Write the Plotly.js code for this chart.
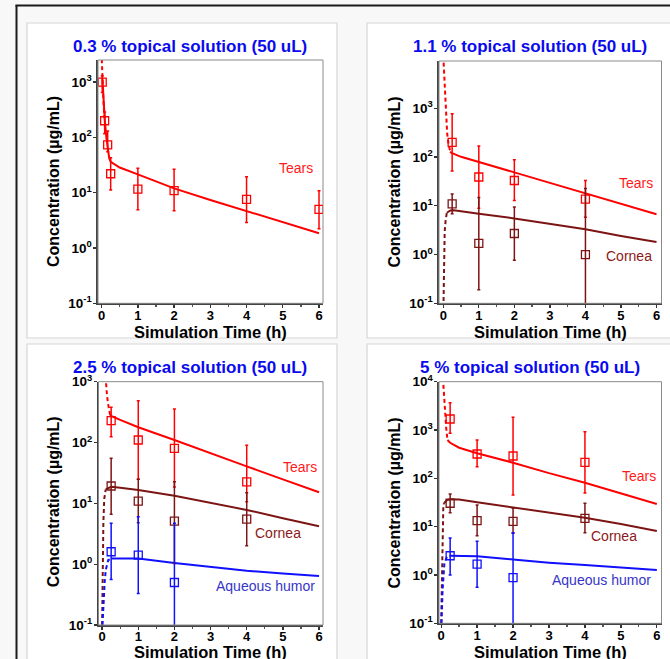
<!DOCTYPE html>
<html><head><meta charset="utf-8">
<script src="https://cdn.plot.ly/plotly-3.0.1.min.js"></script>
<style>html,body{margin:0;padding:0;background:#f8f8f8}#chart{width:670px;height:659px}</style>
</head><body><div id="chart"></div>
<script>
// ---------- Panel A : 0.3 % ----------
const obsA_t = [0.017, 0.083, 0.167, 0.25, 1, 2, 4, 6];
const tearsA = [1000, 200, 73, 22, 11.6, 10.9, 7.6, 5.0];
const tearsA_hi = [1300, 288, 130, 43, 27.7, 26.6, 19.5, 10.9];
const tearsA_lo = [650, 117, 55, 11.2, 4.9, 4.7, 2.9, 2.24];
const simA_dash_t = [0.005, 0.015, 0.03, 0.05, 0.08];
const simA_tears_dash = [2600, 1600, 900, 450, 220];
const simA_t = [0.02, 0.05, 0.09, 0.13, 0.17, 0.21, 0.25, 0.5, 1, 1.5, 2, 3, 4, 5, 6];
const simA_tears = [1200, 500, 200, 100, 60, 42, 36, 28.5, 21.5, 16, 12, 7.4, 4.7, 2.9, 1.85];

// ---------- Panel B : 1.1 % ----------
const obsB_t = [0.25, 1, 2, 4];
const tearsB = [200, 39, 33, 13.7];
const tearsB_hi = [774, 168, 88, 33];
const tearsB_lo = [52, 8.9, 12.9, 5.8];
const corneaB = [11, 1.7, 2.7, 1.0];
const corneaB_hi = [17.4, 14.8, 9.5, 22.7];
const corneaB_lo = [6.9, 0.19, 0.76, 0.01];
const simB_tears_dash_t = [0, 0.02, 0.05, 0.08, 0.11, 0.15, 0.2];
const simB_tears_dash = [12000, 6000, 2000, 800, 306, 180, 128];
const simB_tears_t = [0.19, 0.25, 0.5, 1, 1.5, 2, 3, 4, 5, 6];
const simB_tears = [128, 120, 101, 80, 62, 48.5, 29.5, 18, 11, 6.7];
const simB_cornea_dash_t = [0.005, 0.015, 0.025, 0.04, 0.067, 0.1];
const simB_cornea_dash = [0.08, 0.3, 1.2, 3, 5.1, 7.2];
const simB_cornea_t = [0.1, 0.2, 0.3, 0.5, 1, 2, 3, 4, 5, 6];
const simB_cornea = [7.2, 8.0, 8.1, 7.8, 6.9, 5.5, 4.3, 3.3, 2.4, 1.8];

// ---------- Panel C : 2.5 % ----------
const obsC_t = [0.25, 1, 2, 4];
const tearsC = [229, 110, 80, 22.6];
const tearsC_hi = [380, 487, 355, 90];
const tearsC_lo = [125, 24.8, 18.6, 10.6];
const corneaC = [19.3, 10.9, 5.1, 5.5];
const corneaC_hi = [55, 25, 22.6, 15];
const corneaC_lo = [6.6, 4.8, 1.03, 2.0];
const aqC_t = [0.25, 1, 2];
const aqC = [1.6, 1.41, 0.5];
const aqC_hi = [4.7, 6.0, 4.7];
const aqC_lo = [0.56, 0.33, 0.01];
const simC_tears_dash_t = [0.08, 0.1, 0.13, 0.16, 0.19, 0.22];
const simC_tears_dash = [1600, 1000, 650, 450, 340, 285];
const simC_tears_t = [0.22, 0.25, 0.5, 1, 2, 3, 4, 5, 6];
const simC_tears = [285, 273, 235, 178, 110, 66, 40.6, 24.8, 15.2];
const simC_cornea_dash_t = [0.0, 0.01, 0.02, 0.035, 0.06, 0.1];
const simC_cornea_dash = [0.1, 0.4, 1.5, 5, 12, 17];
const simC_cornea_t = [0.1, 0.25, 0.5, 1, 2, 3, 4, 5, 6];
const simC_cornea = [17, 18.7, 18, 16.6, 13.3, 10.2, 7.8, 5.7, 4.2];
const simC_aq_dash_t = [0.01, 0.04, 0.07, 0.1, 0.17, 0.25];
const simC_aq_dash = [0.1, 0.25, 0.5, 0.8, 1.17, 1.24];
const simC_aq_t = [0.25, 0.5, 1, 2, 3, 4, 5, 6];
const simC_aq = [1.24, 1.25, 1.24, 1.05, 0.9, 0.78, 0.7, 0.64];

// ---------- Panel D : 5 % ----------
const obsD_t = [0.25, 1, 2, 4];
const tearsD = [1690, 319, 290, 214];
const tearsD_hi = [3680, 622, 1830, 925];
const tearsD_lo = [855, 174, 45, 50];
const corneaD = [30.5, 13.3, 12.9, 14.9];
const corneaD_hi = [47.5, 28, 24, 30.5];
const corneaD_lo = [19.5, 6.5, 7.3, 7.5];
const aqD_t = [0.25, 1, 2];
const aqD = [2.5, 1.67, 0.88];
const aqD_hi = [5.8, 5.0, 7.5];
const aqD_lo = [1.0, 0.56, 0.01];
const simD_tears_dash_t = [0.05, 0.08, 0.11, 0.14, 0.175];
const simD_tears_dash = [12000, 5000, 2200, 1100, 620];
const simD_tears_t = [0.175, 0.25, 0.5, 1, 2, 3, 4, 5, 6];
const simD_tears = [620, 545, 430, 330, 211, 128, 81, 49, 29.5];
const simD_cornea_dash_t = [0.0, 0.02, 0.036, 0.06, 0.08];
const simD_cornea_dash = [0.1, 0.8, 16, 26, 30.5];
const simD_cornea_t = [0.08, 0.15, 0.25, 0.5, 1, 2, 3, 4, 5, 6];
const simD_cornea = [30.5, 35, 37, 36.5, 32, 25, 19.5, 15.3, 11.3, 8.1];
const simD_aq_dash_t = [0.01, 0.03, 0.04, 0.09, 0.16, 0.25];
const simD_aq_dash = [0.1, 0.3, 0.49, 1.75, 2.4, 2.5];
const simD_aq_t = [0.25, 0.5, 1, 2, 3, 4, 5, 6];
const simD_aq = [2.5, 2.5, 2.45, 2.1, 1.8, 1.6, 1.42, 1.27];

// ---------- labels ----------
const panelTitles = ['0.3 % topical solution (50 uL)', '1.1 % topical solution (50 uL)',
                     '2.5 % topical solution (50 uL)', '5 % topical solution (50 uL)'];
const yTickVals = [0.1, 1, 10, 100, 1000, 10000];
const yTickText = ['<b>10<sup>-1</sup></b>', '<b>10<sup>0</sup></b>', '<b>10<sup>1</sup></b>',
                   '<b>10<sup>2</sup></b>', '<b>10<sup>3</sup></b>', '<b>10<sup>4</sup></b>'];
const xTickVals = [0, 1, 2, 3, 4, 5, 6];
const xTickText = ['<b>0</b>', '<b>1</b>', '<b>2</b>', '<b>3</b>', '<b>4</b>', '<b>5</b>', '<b>6</b>'];
const xTitle = 'Simulation Time (h)';
const yTitle = 'Concentration (µg/mL)';

const TEARS = '#ff0000', CORNEA = '#7d1414', AQ = '#1010ff';
const FONT = 'Arial, "Liberation Sans", sans-serif';

function lineTr(x, y, color, dash, ax) {
  return {x: x, y: y, type: 'scatter', mode: 'lines', xaxis: 'x' + ax, yaxis: 'y' + ax,
    line: {color: color, width: 2, dash: dash ? '4px,3px' : 'solid'}, hoverinfo: 'skip', showlegend: false};
}
function obsTr(x, y, hi, lo, color, ax) {
  return {x: x, y: y, type: 'scatter', mode: 'markers', xaxis: 'x' + ax, yaxis: 'y' + ax,
    marker: {symbol: 'square-open', size: 8, color: color, line: {color: color, width: 1.3}},
    error_y: {type: 'data', symmetric: false,
      array: y.map((v, i) => hi[i] - v), arrayminus: y.map((v, i) => v - lo[i]),
      color: color, thickness: 1.5, width: 1.5},
    showlegend: false};
}

const traces = [
  lineTr(simA_dash_t, simA_tears_dash, TEARS, true, ''),
  lineTr(simA_t, simA_tears, TEARS, false, ''),
  obsTr(obsA_t, tearsA, tearsA_hi, tearsA_lo, TEARS, ''),

  lineTr(simB_tears_dash_t, simB_tears_dash, TEARS, true, '2'),
  lineTr(simB_tears_t, simB_tears, TEARS, false, '2'),
  lineTr(simB_cornea_dash_t, simB_cornea_dash, CORNEA, true, '2'),
  lineTr(simB_cornea_t, simB_cornea, CORNEA, false, '2'),
  obsTr(obsB_t, tearsB, tearsB_hi, tearsB_lo, TEARS, '2'),
  obsTr(obsB_t, corneaB, corneaB_hi, corneaB_lo, CORNEA, '2'),

  lineTr(simC_tears_dash_t, simC_tears_dash, TEARS, true, '3'),
  lineTr(simC_tears_t, simC_tears, TEARS, false, '3'),
  lineTr(simC_cornea_dash_t, simC_cornea_dash, CORNEA, true, '3'),
  lineTr(simC_cornea_t, simC_cornea, CORNEA, false, '3'),
  lineTr(simC_aq_dash_t, simC_aq_dash, AQ, true, '3'),
  lineTr(simC_aq_t, simC_aq, AQ, false, '3'),
  obsTr(obsC_t, tearsC, tearsC_hi, tearsC_lo, TEARS, '3'),
  obsTr(obsC_t, corneaC, corneaC_hi, corneaC_lo, CORNEA, '3'),
  obsTr(aqC_t, aqC, aqC_hi, aqC_lo, AQ, '3'),

  lineTr(simD_tears_dash_t, simD_tears_dash, TEARS, true, '4'),
  lineTr(simD_tears_t, simD_tears, TEARS, false, '4'),
  lineTr(simD_cornea_dash_t, simD_cornea_dash, CORNEA, true, '4'),
  lineTr(simD_cornea_t, simD_cornea, CORNEA, false, '4'),
  lineTr(simD_aq_dash_t, simD_aq_dash, AQ, true, '4'),
  lineTr(simD_aq_t, simD_aq, AQ, false, '4'),
  obsTr(obsD_t, tearsD, tearsD_hi, tearsD_lo, TEARS, '4'),
  obsTr(obsD_t, corneaD, corneaD_hi, corneaD_lo, CORNEA, '4'),
  obsTr(aqD_t, aqD, aqD_hi, aqD_lo, AQ, '4')
];

const W = 670, H = 659;
const px = v => v / W, py = v => 1 - v / H;

function xAx(l, r, range, anchor) {
  return {domain: [px(l), px(r)], range: range, anchor: anchor,
    tickvals: xTickVals, ticktext: xTickText, ticks: 'outside', ticklen: 3, tickwidth: 1.3, tickcolor: '#333',
    minor: {ticks: 'outside', ticklen: 2, dtick: 0.5, tickcolor: '#555'},
    showline: true, linecolor: '#444', linewidth: 1.6, mirror: false,
    showgrid: false, zeroline: false, ticklabelstandoff: -4,
    tickfont: {family: FONT, size: 13, color: '#000'}};
}
function yAx(t, b, range, anchor) {
  return {domain: [py(b), py(t)], type: 'log', range: range, anchor: anchor,
    tickvals: yTickVals, ticktext: yTickText, ticks: 'outside', ticklen: 3, tickwidth: 1.3, tickcolor: '#333',
    showline: true, linecolor: '#444', linewidth: 1.6, mirror: false,
    showgrid: false, zeroline: false, ticklabelstandoff: -1,
    tickfont: {family: FONT, size: 13.5, color: '#000'}};
}

const panelBox = (x0, y0, x1, y1) => ({type: 'rect', xref: 'paper', yref: 'paper', layer: 'below',
  x0: px(x0), x1: px(x1), y0: py(y1), y1: py(y0), fillcolor: '#ffffff', line: {color: '#d6d6d6', width: 1.2}});
const frame = ax => ({type: 'rect', xref: 'x' + ax + ' domain', yref: 'y' + ax + ' domain', layer: 'above',
  x0: 0, x1: 1, y0: 0, y1: 1, line: {color: '#8a8a8a', width: 1}});

const shapes = [
  panelBox(27, 23, 337, 338), panelBox(367, 23, 700, 338),
  panelBox(27, 344, 337, 700), panelBox(367, 344, 700, 700),
  {type: 'line', xref: 'paper', yref: 'paper', x0: px(15.5), x1: px(700), y0: py(5.5), y1: py(5.5), line: {color: '#1a1a1a', width: 2}},
  {type: 'line', xref: 'paper', yref: 'paper', x0: px(16.5), x1: px(16.5), y0: py(5), y1: py(700), line: {color: '#1a1a1a', width: 2}},
  frame(''), frame('2'), frame('3'), frame('4')
];

function ann(text, x, y, size, color, bold, angle) {
  return {text: bold ? '<b>' + text + '</b>' : text, x: px(x), y: py(y), xref: 'paper', yref: 'paper', showarrow: false,
    xanchor: 'center', yanchor: 'middle', textangle: angle || 0,
    font: {family: FONT, size: size, color: color}};
}
const TITLEC = '#0a0af0';
const annotations = [
  ann(panelTitles[0], 190, 46.5, 17, TITLEC, true),
  ann(panelTitles[1], 530, 46.5, 17, TITLEC, true),
  ann(panelTitles[2], 190, 367, 17, TITLEC, true),
  ann(panelTitles[3], 529.5, 367, 17, TITLEC, true),
  ann(yTitle, 53, 182, 16, '#000', true, -90),
  ann(yTitle, 393.5, 182, 16, '#000', true, -90),
  ann(yTitle, 53.3, 502, 16, '#000', true, -90),
  ann(yTitle, 393.5, 503, 16, '#000', true, -90),
  ann(xTitle, 210.5, 331.5, 16.5, '#000', true),
  ann(xTitle, 550, 331.5, 16.5, '#000', true),
  ann(xTitle, 210.5, 652, 16.5, '#000', true),
  ann(xTitle, 550, 652, 16.5, '#000', true),
  ann('Tears', 296, 168.3, 14, '#ff1a1a'),
  ann('Tears', 636, 183.3, 14, '#ff1a1a'),
  ann('Cornea', 629.3, 256, 14, '#8b1a1a'),
  ann('Tears', 300, 466.7, 14, '#ff1a1a'),
  ann('Cornea', 277.7, 532.7, 14, '#8b1a1a'),
  ann('Aqueous humor', 265, 586, 14, '#3535c8'),
  ann('Tears', 639, 476, 14, '#ff1a1a'),
  ann('Cornea', 614.3, 536, 14, '#8b1a1a'),
  ann('Aqueous humor', 601, 580, 14, '#3535c8')
];

const layout = {
  width: W, height: H, margin: {l: 0, r: 0, t: 0, b: 0},
  paper_bgcolor: '#f8f8f8', plot_bgcolor: 'rgba(0,0,0,0)',
  font: {family: FONT},
  showlegend: false,
  xaxis: xAx(98, 323, [-0.1, 6.11], 'y'),
  yaxis: yAx(60, 303.3, [-1, 3.4], 'x'),
  xaxis2: xAx(439, 661.5, [-0.12, 6.14], 'y2'),
  yaxis2: yAx(61, 303.3, [-1, 3.97], 'x2'),
  xaxis3: xAx(98.5, 323, [-0.1, 6.11], 'y3'),
  yaxis3: yAx(381.7, 625, [-1, 3], 'x3'),
  xaxis4: xAx(439, 661.5, [-0.06, 6.13], 'y4'),
  yaxis4: yAx(381.7, 623.3, [-1, 4], 'x4'),
  shapes: shapes,
  annotations: annotations
};

Plotly.newPlot('chart', traces, layout, {staticPlot: true, displayModeBar: false});
</script>
</body></html>
